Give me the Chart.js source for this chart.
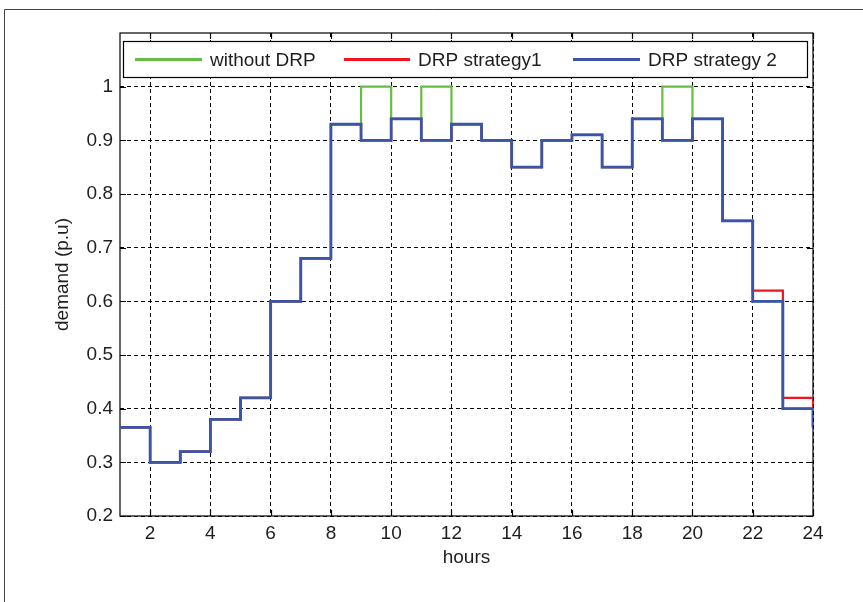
<!DOCTYPE html>
<html>
<head>
<meta charset="utf-8">
<script src="https://cdn.jsdelivr.net/npm/chart.js@4"></script>
<style>
  body { margin: 0; background: #fff; }
  canvas { display: block; }
</style>
</head>
<body>
<canvas id="demandChart" width="863" height="602"></canvas>
<script>
// hourly demand (p.u), one value per hour, held until the next hour
const hours = [1, 2, 3, 4, 5, 6, 7, 8, 9, 10, 11, 12, 13, 14, 15, 16, 17, 18, 19, 20, 21, 22, 23, 24]
const withoutDRP = [0.365, 0.30, 0.32, 0.38, 0.42, 0.60, 0.68, 0.93, 1.00, 0.94, 1.00, 0.93, 0.90, 0.85, 0.90, 0.91, 0.85, 0.94, 1.00, 0.94, 0.75, 0.60, 0.40, 0.365]
const strategy1 = [0.365, 0.30, 0.32, 0.38, 0.42, 0.60, 0.68, 0.93, 0.90, 0.94, 0.90, 0.93, 0.90, 0.85, 0.90, 0.91, 0.85, 0.94, 0.90, 0.94, 0.75, 0.62, 0.42, 0.365]
const strategy2 = [0.365, 0.30, 0.32, 0.38, 0.42, 0.60, 0.68, 0.93, 0.90, 0.94, 0.90, 0.93, 0.90, 0.85, 0.90, 0.91, 0.85, 0.94, 0.90, 0.94, 0.75, 0.60, 0.40, 0.365]

const xTicks = [2, 4, 6, 8, 10, 12, 14, 16, 18, 20, 22, 24]
const yTicks = [0.2, 0.3, 0.4, 0.5, 0.6, 0.7, 0.8, 0.9, 1.0]

const seriesNames = ["without DRP", "DRP strategy1", "DRP strategy 2"]
const seriesColors = ["#66bd45", "#f0141c", "#3a55a8"]

const FONT = "Liberation Sans, Arial, sans-serif"
const TEXT = "#1e1e1e"

function toPoints(values) {
  return hours.map((h, i) => ({ x: h, y: values[i] }))
}

function makeSet(idx, values, order, width) {
  return {
    label: seriesNames[idx],
    data: toPoints(values),
    borderColor: seriesColors[idx],
    backgroundColor: seriesColors[idx],
    borderWidth: width,
    stepped: 'before',
    pointRadius: 0,
    fill: false,
    order: order
  }
}

// box, inward ticks, outer frame, legend and axis titles
const frame = {
  id: 'frame',
  beforeDatasetsDraw(chart) {
    const { ctx, chartArea: a, scales } = chart
    ctx.save()
    ctx.setLineDash([])

    // outer figure frame
    ctx.strokeStyle = '#444'
    ctx.lineWidth = 1
    ctx.beginPath()
    ctx.moveTo(4.5, chart.height)
    ctx.lineTo(4.5, 9.5)
    ctx.lineTo(chart.width, 9.5)
    ctx.stroke()

    ctx.strokeStyle = '#000'
    ctx.lineWidth = 1.2
    ctx.strokeRect(a.left, a.top, a.right - a.left, a.bottom - a.top)

    const len = 6
    ctx.beginPath()
    xTicks.forEach(v => {
      const x = Math.round(scales.x.getPixelForValue(v)) + 0.5
      ctx.moveTo(x, a.bottom); ctx.lineTo(x, a.bottom - len)
      ctx.moveTo(x, a.top); ctx.lineTo(x, a.top + len)
    })
    yTicks.forEach(v => {
      const y = Math.round(scales.y.getPixelForValue(v)) + 0.5
      ctx.moveTo(a.left, y); ctx.lineTo(a.left + len, y)
      ctx.moveTo(a.right, y); ctx.lineTo(a.right - len, y)
    })
    ctx.stroke()
    ctx.restore()
  },
  afterDraw(chart) {
    const { ctx, chartArea: a } = chart
    ctx.save()

    // legend box inside the plot
    const lx = 123.5, ly = 41.5, lw = 684, lh = 36
    ctx.fillStyle = '#fff'
    ctx.fillRect(lx, ly, lw, lh)
    ctx.strokeStyle = '#000'
    ctx.lineWidth = 1.2
    ctx.strokeRect(lx, ly, lw, lh)

    const entries = [
      { x0: 135, x1: 202, tx: 210 },
      { x0: 344, x1: 410, tx: 418 },
      { x0: 573, x1: 640, tx: 648 }
    ]
    ctx.font = `19px ${FONT}`
    ctx.textBaseline = 'middle'
    ctx.textAlign = 'left'
    entries.forEach((e, i) => {
      const cy = ly + lh / 2
      ctx.strokeStyle = seriesColors[i]
      ctx.lineWidth = 2.8
      ctx.beginPath()
      ctx.moveTo(e.x0, cy); ctx.lineTo(e.x1, cy)
      ctx.stroke()
      ctx.fillStyle = TEXT
      ctx.fillText(seriesNames[i], e.tx, cy + 1)
    })

    // axis titles
    ctx.fillStyle = TEXT
    ctx.textAlign = 'center'
    ctx.fillText('hours', (a.left + a.right) / 2, 558)
    ctx.translate(63, (a.top + a.bottom) / 2)
    ctx.rotate(-Math.PI / 2)
    ctx.fillText('demand (p.u)', 0, 0)
    ctx.restore()
  }
}

new Chart(document.getElementById('demandChart'), {
  type: 'line',
  data: {
    datasets: [
      makeSet(0, withoutDRP, 3, 2.2),
      makeSet(1, strategy1, 2, 2.2),
      makeSet(2, strategy2, 1, 2.8)
    ]
  },
  options: {
    responsive: false,
    animation: false,
    layout: { padding: { left: 0, top: 33, right: 50, bottom: 0 } },
    plugins: {
      legend: { display: false },
      tooltip: { enabled: false }
    },
    scales: {
      x: {
        type: 'linear',
        min: 1,
        max: 24,
        afterFit: s => { s.height = 86 },
        afterBuildTicks: s => { s.ticks = xTicks.map(v => ({ value: v })) },
        grid: { color: '#000', lineWidth: 1, drawTicks: false },
        border: { display: false, dash: [4, 3] },
        ticks: {
          padding: 6,
          color: TEXT,
          font: { family: FONT, size: 19 },
          maxRotation: 0,
          autoSkip: false
        }
      },
      y: {
        type: 'linear',
        min: 0.2,
        max: 1.1,
        afterFit: s => { s.width = 120 },
        afterBuildTicks: s => { s.ticks = yTicks.map(v => ({ value: v })) },
        grid: { color: '#000', lineWidth: 1, drawTicks: false },
        border: { display: false, dash: [4, 3] },
        ticks: {
          padding: 7,
          color: TEXT,
          font: { family: FONT, size: 19 },
          callback: v => (v === 1 ? '1' : v.toFixed(1))
        }
      }
    }
  },
  plugins: [frame]
})
</script>
</body>
</html>
